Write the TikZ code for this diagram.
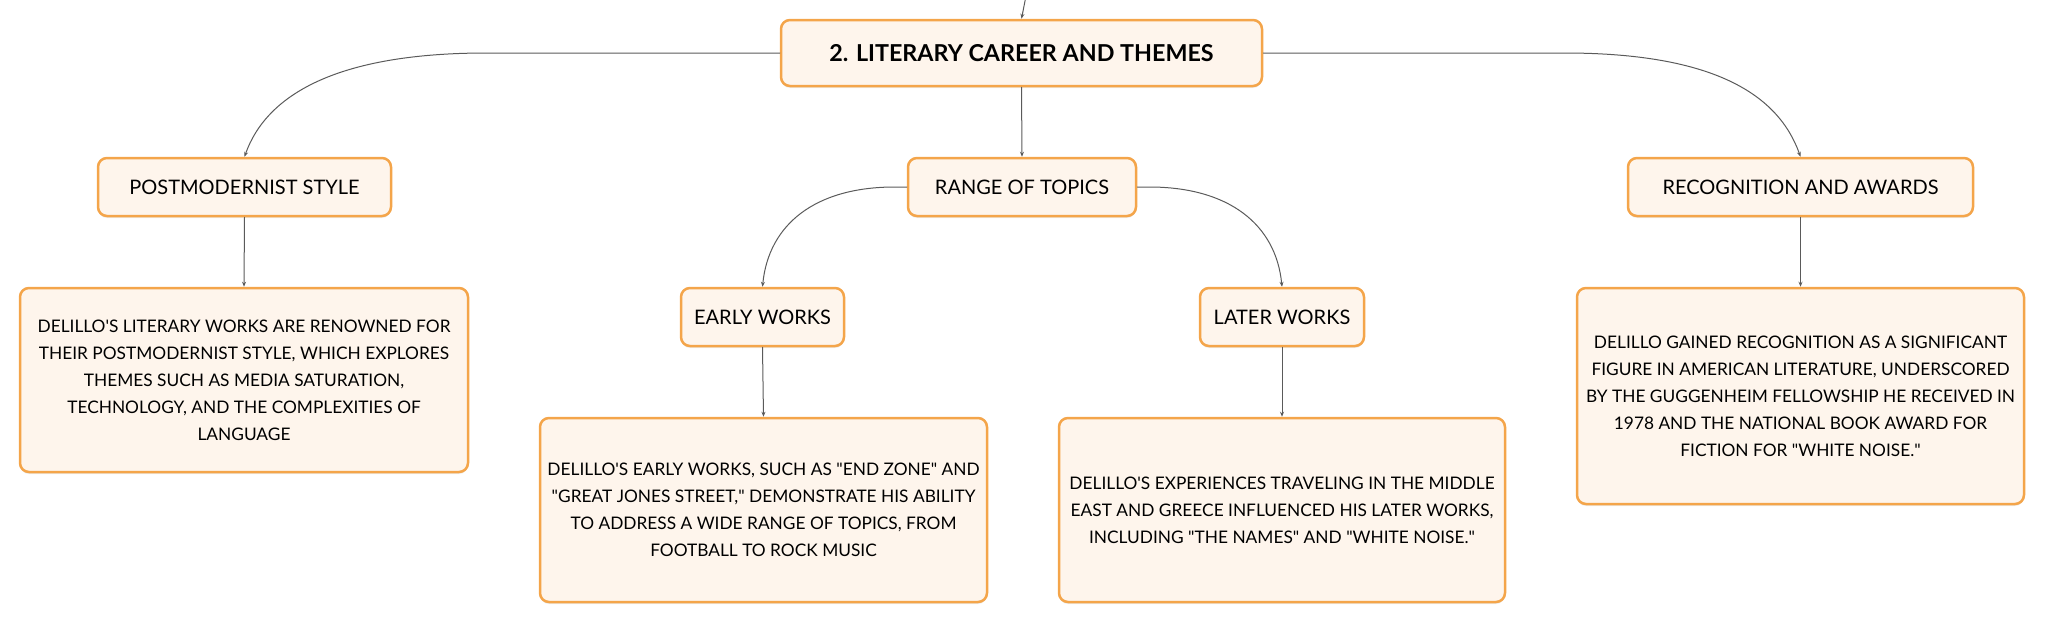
\documentclass[tikz,border=0pt]{standalone}
\usepackage{fontspec}
\setmainfont{Lato}
\usepackage{color}
\usetikzlibrary{arrows.meta}
\usetikzlibrary{shadows}
\definecolor{boxorange}{HTML}{F4A54A}
\definecolor{boxfill}{HTML}{FEF5EC}
\definecolor{linkgray}{HTML}{5A5A5A}
\newcommand{\qt}{\textquotedbl}
\newcommand{\ap}{\textquotesingle}

\begin{document}
\begin{tikzpicture}[line cap=round,line join=round,>={Stealth[length=5pt,width=4pt]},x=1pt,y=-1pt,
      box/.style={draw=boxorange,fill=boxfill,line width=2.5pt,rounded corners=9pt,inner sep=0pt,align=center,
        drop shadow={shadow xshift=0pt,shadow yshift=-2pt,opacity=0.14}},
      topic/.style={box,minimum height=58pt,font=\fontsize{20}{24}\selectfont},
      detail/.style={box,font=\fontsize{17.3}{27}\selectfont},
      link/.style={->,draw=linkgray,line width=1pt}]
      \useasboundingbox (0,0) rectangle (2046,624);
      \node[box,minimum width=481pt,minimum height=66pt,font=\fontsize{23.3}{27}\selectfont\bfseries] (career) at (1021.5,53) {2. LITERARY CAREER AND THEMES};
      \node[topic,minimum width=293pt] (post) at (244.5,187) {POSTMODERNIST STYLE};
      \node[topic,minimum width=228pt] (range) at (1022,187) {RANGE OF TOPICS};
      \node[topic,minimum width=345pt] (awards) at (1800.5,187) {RECOGNITION AND AWARDS};
      \node[topic,minimum width=163pt] (early) at (762.5,317) {EARLY WORKS};
      \node[topic,minimum width=164pt] (later) at (1282,317) {LATER WORKS};
      \node[detail,minimum width=448pt,minimum height=184pt] (postText) at (244,380) {DELILLO\ap S LITERARY WORKS ARE RENOWNED FOR\\THEIR POSTMODERNIST STYLE, WHICH EXPLORES\\THEMES SUCH AS MEDIA SATURATION,\\TECHNOLOGY, AND THE COMPLEXITIES OF\\LANGUAGE};
      \node[detail,minimum width=447pt,minimum height=184pt] (earlyText) at (763.5,510) {DELILLO\ap S EARLY WORKS, SUCH AS \qt END ZONE\qt{} AND\\\qt GREAT JONES STREET,\qt{} DEMONSTRATE HIS ABILITY\\TO ADDRESS A WIDE RANGE OF TOPICS, FROM\\FOOTBALL TO ROCK MUSIC};
      \node[detail,minimum width=446pt,minimum height=184pt] (laterText) at (1282,510) {DELILLO\ap S EXPERIENCES TRAVELING IN THE MIDDLE\\EAST AND GREECE INFLUENCED HIS LATER WORKS,\\INCLUDING \qt THE NAMES\qt{} AND \qt WHITE NOISE.\qt};
      \node[detail,minimum width=447pt,minimum height=216pt] (awardsText) at (1800.5,396) {DELILLO GAINED RECOGNITION AS A SIGNIFICANT\\FIGURE IN AMERICAN LITERATURE, UNDERSCORED\\BY THE GUGGENHEIM FELLOWSHIP HE RECEIVED IN\\1978 AND THE NATIONAL BOOK AWARD FOR\\FICTION FOR \qt WHITE NOISE.\qt};
      \coordinate (up) at (1026,-4);
      \draw [link] (up) -- (career.north);
      \draw [link] (career.west) -- ++(-293,0) .. controls +(-150,0) and +(22,-62) .. (post.north);
      \draw [link] (career.east) -- ++(301,0) .. controls +(150,0) and +(-22,-62) .. (awards.north);
      \draw [link] (career.south) -- (range.north);
      \draw [link] (range.west) -- ++(-12,0) .. controls +(-80,0) and +(6,-62) .. (early.north);
      \draw [link] (range.east) -- ++(12,0) .. controls +(80,0) and +(-6,-62) .. (later.north);
      \draw [link] (post.south) -- (postText.north);
      \draw [link] (early.south) -- (earlyText.north);
      \draw [link] (later.south) -- (laterText.north);
      \draw [link] (awards.south) -- (awardsText.north);
    \end{tikzpicture}
\end{document}
